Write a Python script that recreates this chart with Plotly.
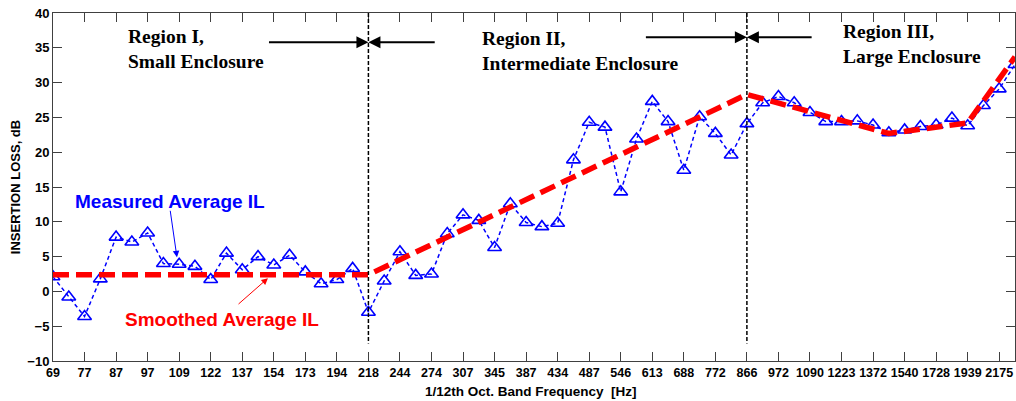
import plotly.graph_objects as go

# 1/12th octave band centre frequencies (Hz)
freqs = [69, 73, 77, 82, 87, 92, 97, 103, 109, 115, 122, 130, 137, 145, 154, 163,
         173, 183, 194, 206, 218, 231, 244, 259, 274, 290, 307, 325, 345, 365, 387,
         410, 434, 460, 487, 516, 546, 579, 613, 649, 688, 729, 772, 818, 866, 917,
         972, 1030, 1090, 1155, 1223, 1296, 1372, 1454, 1540, 1631, 1728, 1830, 1939,
         2054, 2175, 2304]

# Measured average insertion loss (dB)
measured_il = [2.1, -0.8, -3.6, 1.8, 7.8, 7.1, 8.4, 4.0, 3.9, 3.6, 1.7, 5.5, 3.1, 5.0,
               3.8, 5.2, 2.8, 1.1, 1.7, 3.3, -3.0, 1.5, 5.7, 2.3, 2.5, 8.3, 11.0, 10.2,
               6.3, 12.6, 9.9, 9.3, 9.8, 18.9, 24.3, 23.6, 14.3, 21.9, 27.3, 24.4, 17.4,
               25.1, 22.7, 19.6, 24.1, 27.1, 28.0, 27.1, 25.7, 24.4, 24.4, 24.5, 23.9,
               22.8, 23.2, 23.7, 23.9, 24.9, 23.8, 26.7, 29.1, 32.6]

# Smoothed average insertion loss breakpoints
smooth_freqs = [69, 218, 866, 1454, 1939, 2304]
smooth_il = [2.4, 2.4, 28.3, 22.7, 24.2, 33.7]

# Region boundaries
boundary_freqs = [218, 866]

tick_labels = [str(f) for f in freqs[::2]]
cats = [str(f) for f in freqs]

fig = go.Figure()

fig.add_trace(go.Scatter(
    x=cats, y=measured_il, mode="lines+markers",
    line=dict(color="#0000FF", width=1.5, dash="4px,3px"),
    marker=dict(symbol="triangle-up-open", size=12, color="#0000FF",
                line=dict(width=1.6, color="#0000FF")),
    showlegend=False, hoverinfo="x+y"))

fig.add_trace(go.Scatter(
    x=[str(f) for f in smooth_freqs], y=smooth_il, mode="lines",
    line=dict(color="#FF0000", width=5.5, dash="16px,7px"),
    showlegend=False, hoverinfo="x+y"))

shapes = []
for bf in boundary_freqs:
    i = freqs.index(bf)
    shapes.append(dict(type="line", xref="x", yref="y", x0=i, x1=i, y0=40, y1=-7.5,
                       line=dict(color="black", width=1.5, dash="4px,2px")))

serif = "Liberation Serif, Times New Roman, serif"
sans = "Liberation Sans, Arial, sans-serif"

annotations = []
# region texts
for txt, xi, yv in [("Region I,<br>Small Enclosure", 4.63, 34.8),
                    ("Region II,<br>Intermediate Enclosure", 27.1, 34.6),
                    ("Region III,<br>Large Enclosure", 49.95, 35.6)]:
    annotations.append(dict(x=xi, y=yv, xref="x", yref="y", text=txt, showarrow=False,
                            xanchor="left", yanchor="middle", align="left",
                            font=dict(family=serif, size=19.5, color="black", weight="bold")))

# region arrows
i218 = freqs.index(218)
i866 = freqs.index(866)
for head, tail, yv in [(i218, 13.6, 35.8), (i218, 24.3, 35.8),
                       (i866, 37.5, 36.5), (i866, 48.2, 36.5)]:
    annotations.append(dict(x=head, y=yv, ax=tail, ay=yv, xref="x", yref="y",
                            axref="x", ayref="y", text="", showarrow=True,
                            arrowhead=2, arrowsize=1.2, arrowwidth=2, arrowcolor="black"))

# series labels
annotations.append(dict(x=1.46, y=12.9, xref="x", yref="y", text="Measured Average IL",
                        showarrow=False, xanchor="left", yanchor="middle", xshift=-3,
                        font=dict(family=sans, size=19, color="#0000FF", weight="bold")))
annotations.append(dict(x=4.63, y=-4.1, xref="x", yref="y", text="Smoothed Average IL",
                        showarrow=False, xanchor="left", yanchor="middle", xshift=-3,
                        font=dict(family=sans, size=19, color="#FF0000", weight="bold")))
annotations.append(dict(x=7.86, y=4.9, ax=7.42, ay=11.8, xref="x", yref="y",
                        axref="x", ayref="y", text="", showarrow=True,
                        arrowhead=2, arrowsize=1.3, arrowwidth=1, arrowcolor="#0000FF"))
annotations.append(dict(x=13.63, y=1.9, ax=11.67, ay=-2.0, xref="x", yref="y",
                        axref="x", ayref="y", text="", showarrow=True,
                        arrowhead=2, arrowsize=1.3, arrowwidth=1, arrowcolor="#FF0000"))
# x title
annotations.append(dict(x=0.497, y=-0.06, xref="paper", yref="paper",
                        text="1/12th Oct. Band Frequency&nbsp;&nbsp;[Hz]", showarrow=False,
                        xanchor="center", yanchor="top",
                        font=dict(family=sans, size=13.5, color="black", weight="bold")))

axcol = "#404040"
fig.update_layout(
    width=1016, height=401,
    margin=dict(l=53, r=1, t=13, b=40),
    paper_bgcolor="white", plot_bgcolor="white",
    shapes=shapes, annotations=annotations,
    xaxis=dict(type="category", range=[0, len(freqs) - 1],
               tickmode="array", tickvals=tick_labels, ticktext=tick_labels,
               ticks="inside", ticklen=9, tickwidth=1, tickcolor=axcol,
               showline=True, linecolor=axcol, linewidth=1, mirror="ticks",
               showgrid=False, zeroline=False,
               tickfont=dict(family=sans, size=12.5, color="black", weight="bold")),
    yaxis=dict(range=[-10, 40], dtick=5, tick0=0,
               ticks="inside", ticklen=9, tickwidth=1, tickcolor=axcol,
               showline=True, linecolor=axcol, linewidth=1, mirror="ticks",
               showgrid=False, zeroline=False, ticklabeloverflow="allow",
               title=dict(text="INSERTION LOSS, dB", standoff=3,
                          font=dict(family=sans, size=13, color="black", weight="bold")),
               tickfont=dict(family=sans, size=13, color="black", weight="bold")),
)

# remove the default 8px page margin so the figure fills the window exactly
fig.write_html("out.html", config={"displayModeBar": False},
               post_script="document.body.style.margin='0';document.body.style.overflow='hidden';")
